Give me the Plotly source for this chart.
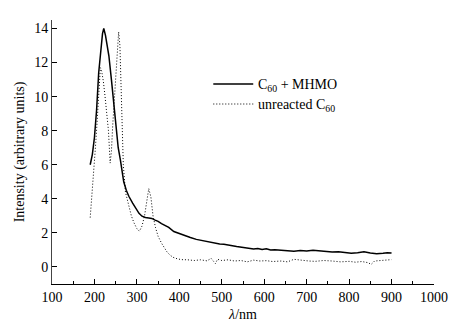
import plotly.graph_objects as go

# C60 + MHMO (solid)
wl_mhmo = [190, 195, 200, 205, 210, 215, 219, 222, 226, 230, 234, 240, 245, 251, 256, 261, 265, 269,
           275, 281, 290, 297, 305, 312, 320, 328, 335, 343, 350, 358, 367, 375, 387, 400, 413, 426,
           440, 452, 465, 475, 485, 495, 505, 515, 525, 535, 545, 555, 565, 575, 585, 595, 605, 615,
           625, 640, 655, 670, 685, 700, 715, 730, 745, 760, 775, 790, 805, 820, 835, 850, 865, 880,
           890, 900]
int_mhmo = [6.0, 6.6, 7.6, 9.2, 11.4, 12.9, 13.7, 14.0, 13.6, 13.0, 12.4, 11.0, 9.6, 8.0, 7.0, 6.3, 5.5, 5.0,
            4.5, 4.15, 3.75, 3.45, 3.15, 2.98, 2.9, 2.88, 2.85, 2.75, 2.68, 2.55, 2.45, 2.32, 2.08, 1.95, 1.85, 1.73,
            1.62, 1.56, 1.47, 1.42, 1.40, 1.35, 1.33, 1.27, 1.25, 1.20, 1.17, 1.12, 1.10, 1.05, 1.09, 1.03, 1.07, 1.00,
            1.01, 0.98, 0.95, 0.93, 0.96, 0.94, 0.98, 0.95, 0.90, 0.88, 0.90, 0.84, 0.80, 0.84, 0.89, 0.82, 0.78, 0.80,
            0.84, 0.82]

# unreacted C60 (dotted)
wl_c60 = [190, 194, 198, 202, 206, 210, 214, 217, 221, 225, 229, 233, 237, 240, 243, 247, 251, 254, 257,
          260, 263, 265, 268, 273, 280, 287, 293, 300, 306, 312, 318, 323, 328, 333, 338, 344, 350, 358,
          365, 371, 378, 385, 395, 405, 420, 435, 450, 465, 475, 485, 490, 500, 515, 530, 545, 560, 575,
          590, 605, 620, 640, 655, 670, 690, 705, 720, 740, 760, 780, 800, 815, 830, 845, 852, 860, 875,
          890, 900]
int_c60 = [2.9, 4.1, 5.3, 6.9, 8.4, 10.2, 11.7, 11.5, 10.9, 10.0, 9.0, 8.0, 6.1, 6.8, 8.3, 9.8, 11.5, 13.0, 13.8,
           13.0, 10.5, 8.0, 6.0, 4.4, 3.6, 3.0, 2.6, 2.25, 2.1, 2.4, 3.0, 3.9, 4.6, 4.1, 3.0, 2.3, 1.8, 1.4,
           1.1, 0.88, 0.7, 0.57, 0.48, 0.43, 0.42, 0.38, 0.42, 0.36, 0.50, 0.20, 0.45, 0.38, 0.42, 0.35, 0.38, 0.30, 0.40,
           0.35, 0.37, 0.32, 0.35, 0.30, 0.45, 0.38, 0.35, 0.33, 0.38, 0.35, 0.30, 0.33, 0.28, 0.32, 0.25, 0.15, 0.35, 0.38,
           0.42, 0.43]

x_ticks = [100, 200, 300, 400, 500, 600, 700, 800, 900, 1000]
y_ticks = [0, 2, 4, 6, 8, 10, 12, 14]

FONT = "Liberation Serif, Times New Roman, serif"
DOT = "1px,2px"

fig = go.Figure()
fig.add_trace(go.Scatter(x=wl_mhmo, y=int_mhmo, mode="lines",
                         line=dict(color="black", width=1.5), showlegend=False))
fig.add_trace(go.Scatter(x=wl_c60, y=int_c60, mode="lines",
                         line=dict(color="black", width=1, dash=DOT), showlegend=False))

# manual legend
L = 51.5
W = 449 - 15 - L
T = 20
H = 324 - 40 - T
def px(x):
    return (x - L) / W
def py(y):
    return 1 - (y - T) / H

fig.add_shape(type="line", xref="paper", yref="paper", x0=px(213), x1=px(253), y0=py(84), y1=py(84),
              line=dict(color="black", width=1.5))
fig.add_shape(type="line", xref="paper", yref="paper", x0=px(213), x1=px(253), y0=py(104), y1=py(104),
              line=dict(color="black", width=1, dash=DOT))
fig.add_annotation(xref="paper", yref="paper", x=px(256), y=py(85), xanchor="left", yanchor="middle",
                   text="C<sub>60</sub> + MHMO", showarrow=False, font=dict(family=FONT, size=14, color="black"))
fig.add_annotation(xref="paper", yref="paper", x=px(256), y=py(105), xanchor="left", yanchor="middle",
                   text="unreacted C<sub>60</sub>", showarrow=False, font=dict(family=FONT, size=14, color="black"))

fig.update_layout(
    width=449, height=324,
    margin=dict(l=51.5, r=15, t=20, b=40, autoexpand=False),
    paper_bgcolor="white", plot_bgcolor="white",
    font=dict(family=FONT, size=14, color="black"),
    xaxis=dict(range=[100, 1000], tickvals=x_ticks, ticks="inside", ticklen=5, tickcolor="black",
               showline=True, linecolor="black", linewidth=1.3, showgrid=False, zeroline=False,
               automargin=False,
               minor=dict(ticks="inside", dtick=50, tick0=100, ticklen=3, tickcolor="black", showgrid=False),
               title=dict(text="<i>λ</i>/nm", standoff=5, font=dict(family=FONT, size=14)),
               tickfont=dict(family=FONT, size=14)),
    yaxis=dict(range=[-1, 14.5], tickvals=y_ticks, ticks="inside", ticklen=5, tickcolor="black",
               showline=True, linecolor="#444", linewidth=1, showgrid=False, zeroline=False,
               automargin=False,
               title=dict(text="Intensity (arbitrary units)", standoff=6, font=dict(family=FONT, size=14)),
               tickfont=dict(family=FONT, size=14)),
)

fig.write_html("out.html", config={"displayModeBar": False},
               post_script="document.body.style.margin='0';document.body.style.overflow='hidden';")
